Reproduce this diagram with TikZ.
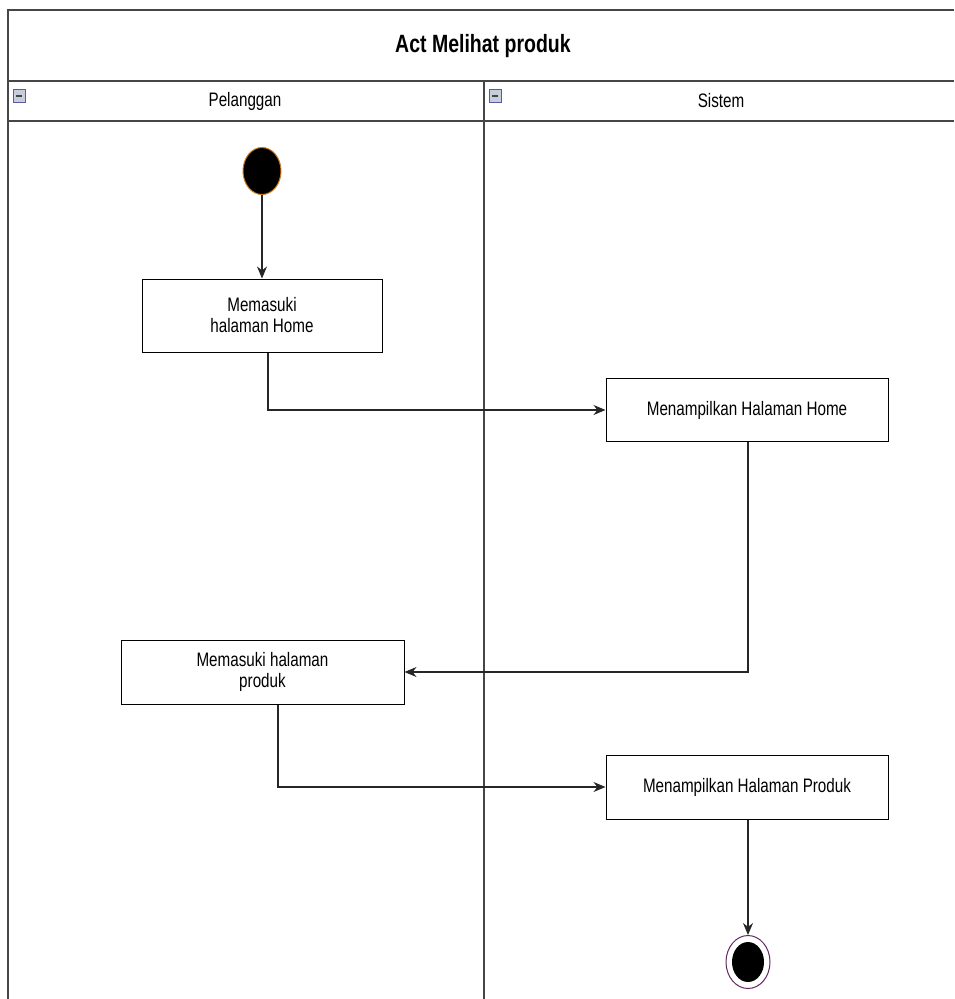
\documentclass[tikz,border=0pt]{standalone}
\usepackage{fontspec}
\setmainfont{Liberation Sans}[FakeStretch=0.78]
\usetikzlibrary{arrows.meta,shapes.geometric}
\definecolor{frameln}{RGB}{70,70,70}
\definecolor{startrim}{RGB}{200,120,30}
\definecolor{endrim}{RGB}{100,40,100}
\definecolor{iconfill}{RGB}{200,205,220}
\begin{document}
\begin{tikzpicture}[x=1pt,y=-1pt,
  frame/.style={draw=frameln,line width=1.6pt},
  actbox/.style={draw=black,line width=1pt,fill=white,inner sep=0pt,align=center,font=\fontsize{19.5}{21}\selectfont},
  lanelabel/.style={font=\fontsize{19.5}{21}\selectfont,inner sep=0pt},
  flow/.style={draw=black!85,line width=1.2pt,-{Stealth[length=12pt,width=10pt]}},
  lanebox/.style={draw=gray!70!blue,fill=iconfill,line width=0.6pt,minimum width=12pt,minimum height=13pt,inner sep=0pt}
]
\useasboundingbox (0,0) rectangle (954,999);
% frame
\draw[frame] (954,10) -- (8,10) -- (8,999);
\draw[frame] (8,81) -- (954,81);
\draw[frame] (8,121) -- (954,121);
\draw[frame] (484,81) -- (484,999);
% title and lanes
\node[font=\fontsize{25}{26}\selectfont\bfseries,inner sep=0pt] (title) at (483,46) {Act Melihat produk};
\node[lanebox] (icon1) at (19,96) {};
\node[lanebox] (icon2) at (495,96) {};
\draw[frameln,line width=1.4pt] ([xshift=-3pt]icon1.center) -- ([xshift=3pt]icon1.center);
\draw[frameln,line width=1.4pt] ([xshift=-3pt]icon2.center) -- ([xshift=3pt]icon2.center);
\node[lanelabel] (lane1) at (245,101) {Pelanggan};
\node[lanelabel] (lane2) at (721,101) {Sistem};
% nodes
\node[ellipse,draw=startrim,line width=1pt,fill=black,minimum width=38pt,minimum height=47pt,inner sep=0pt] (start) at (262,171) {};
\node[actbox,minimum width=240pt,minimum height=73pt] (b1) at (262,315.5) {Memasuki\\halaman Home};
\node[actbox,minimum width=282pt,minimum height=63pt] (b2) at (747,410) {Menampilkan Halaman Home};
\node[actbox,minimum width=283pt,minimum height=64pt] (b3) at (262.5,672) {Memasuki halaman\\produk};
\node[actbox,minimum width=282pt,minimum height=64pt] (b4) at (747,787) {Menampilkan Halaman Produk};
\node[ellipse,draw=endrim,line width=1pt,fill=white,minimum width=44pt,minimum height=53pt,inner sep=0pt] (endo) at (748,962) {};
\node[ellipse,fill=black,minimum width=32pt,minimum height=40pt,inner sep=0pt] (endi) at (748,962) {};
% connectors
\draw[flow] (start) -- (b1);
\coordinate (c1) at (268,410);
\draw[flow] (b1.south -| c1) -- (c1) -- (b2.west);
\coordinate (c2) at (748,672);
\draw[flow] (b2.south -| c2) -- (c2) -- (b3.east);
\coordinate (c3) at (278,787);
\draw[flow] (b3.south -| c3) -- (c3) -- (b4.west);
\draw[flow] (b4.south -| endo) -- (endo.north);
\end{tikzpicture}
\end{document}
